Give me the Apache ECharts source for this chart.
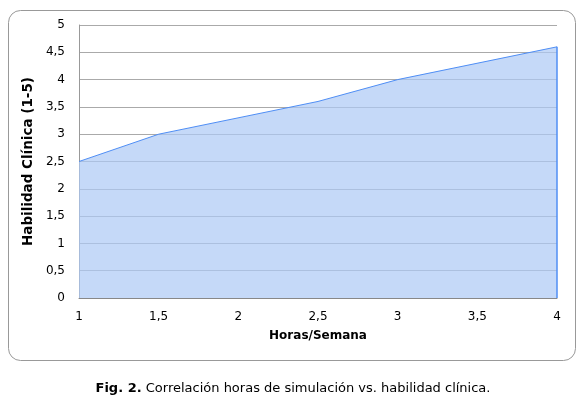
<!DOCTYPE html>
<html><head><meta charset="utf-8">
<script src="https://cdn.jsdelivr.net/npm/echarts@6/dist/echarts.min.js"></script>
<style>html,body{margin:0;padding:0;background:#fff}#c{width:586px;height:397px}</style>
</head><body><div id="c"></div>
<script>
var hours = [1, 1.5, 2.5, 3, 4];
var skill = [2.5, 3.0, 3.6, 4.0, 4.6];
var xTitle = 'Horas/Semana';
var yTitle = 'Habilidad Clínica (1-5)';
var captionBold = 'Fig. 2.';
var captionText = ' Correlación horas de simulación vs. habilidad clínica.';

var FONT = 'DejaVu Sans';
var fmt = function (v) { return String(v).replace('.', ','); };
var chart = echarts.init(document.getElementById('c'), null, {renderer: 'canvas'});
chart.setOption({
  animation: false,
  backgroundColor: '#fff',
  textStyle: {fontFamily: FONT},
  graphic: [{
    type: 'rect', left: 8, top: 10, z: -1,
    shape: {width: 567, height: 350, r: 12},
    style: {fill: '#fff', stroke: '#999', lineWidth: 1}
  }],
  title: {
    text: '{b|' + captionBold + '}{n|' + captionText + '}',
    left: 'center', top: 377,
    textStyle: {
      fontWeight: 'normal',
      rich: {
        b: {fontFamily: FONT, fontWeight: 'bold', fontSize: 13, color: '#000'},
        n: {fontFamily: FONT, fontWeight: 'normal', fontSize: 13, color: '#000'}
      }
    }
  },
  grid: {left: 79, top: 25, right: 29, bottom: 99},
  xAxis: {
    type: 'value', min: 1, max: 4, interval: 0.5,
    name: xTitle, nameLocation: 'middle', nameGap: 32,
    nameTextStyle: {fontFamily: FONT, fontWeight: 'bold', fontSize: 12, color: '#000'},
    axisLine: {show: true, lineStyle: {color: '#888', width: 1}},
    axisTick: {show: false},
    splitLine: {show: false},
    axisLabel: {formatter: fmt, fontFamily: FONT, fontSize: 12, color: '#000', margin: 13}
  },
  yAxis: {
    type: 'value', min: 0, max: 5, interval: 0.5,
    name: yTitle, nameLocation: 'middle', nameGap: 36, nameRotate: 90,
    nameTextStyle: {fontFamily: FONT, fontWeight: 'bold', fontSize: 13.5, color: '#000'},
    axisLine: {show: true, lineStyle: {color: '#999', width: 1}},
    axisTick: {show: false},
    splitLine: {show: true, lineStyle: {color: '#aaa', width: 1}},
    axisLabel: {formatter: fmt, fontFamily: FONT, fontSize: 12, color: '#000', margin: 14}
  },
  series: [{
    type: 'line',
    data: hours.map(function (h, i) { return [h, skill[i]]; }),
    symbol: 'none',
    lineStyle: {color: '#4f8ef5', width: 1},
    areaStyle: {color: '#acc9f5', opacity: 0.7, origin: 'start'},
    z: 1
  }, {
    type: 'line',
    data: [[hours[hours.length - 1], 0], [hours[hours.length - 1], skill[skill.length - 1]]],
    symbol: 'none',
    lineStyle: {color: '#4f8ef5', width: 1.5},
    silent: true
  }]
});
</script></body></html>
